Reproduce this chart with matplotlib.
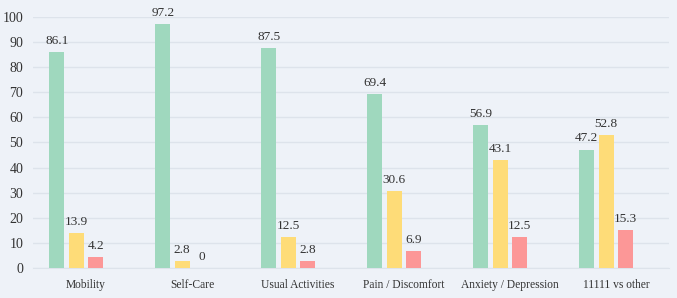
import matplotlib.pyplot as plt
import numpy as np

categories = ['Mobility', 'Self-Care', 'Usual Activities', 'Pain / Discomfort',
              'Anxiety / Depression', '11111 vs other']
green_vals = [86.1, 97.2, 87.5, 69.4, 56.9, 47.2]
yellow_vals = [13.9, 2.8, 12.5, 30.6, 43.1, 52.8]
pink_vals = [4.2, 0, 2.8, 6.9, 12.5, 15.3]
yticks = list(range(0, 101, 10))

plt.rcParams['font.family'] = ['Liberation Serif', 'DejaVu Serif']
bg = '#eef2f8'

fig = plt.figure(figsize=(6.77, 2.98), dpi=100, facecolor=bg)
ax = fig.add_axes([0.0487, 0.1007, 0.9395, 0.8423], facecolor=bg)

x = np.arange(len(categories))
w = 0.14
series = [(green_vals, '#9fd8be', -0.276),
          (yellow_vals, '#fedc78', -0.092),
          (pink_vals, '#fc9797', 0.092)]
for vals, col, off in series:
    bars = ax.bar(x + off, vals, width=w, color=col, zorder=3)
    for b, v in zip(bars, vals):
        ax.text(b.get_x() + b.get_width() / 2, v + 2, f'{v:g}',
                ha='center', va='bottom', fontsize=9.5, color='#333333')

ax.set_xlim(-0.5, len(categories) - 0.5)
ax.set_ylim(0, 100)
ax.set_yticks(yticks)
ax.set_xticks(x)
ax.set_xticklabels(categories)
ax.grid(axis='y', color='#dde3eb', linewidth=1, zorder=0)
for s in ['top', 'right', 'left']:
    ax.spines[s].set_visible(False)
ax.spines['bottom'].set_color('#dde3eb')
ax.tick_params(length=0, labelsize=10, colors='#333333')
ax.tick_params(axis='y', pad=7)
ax.tick_params(axis='x', pad=8, labelsize=8.3)

fig.savefig('out.png', dpi=100, facecolor=bg)
